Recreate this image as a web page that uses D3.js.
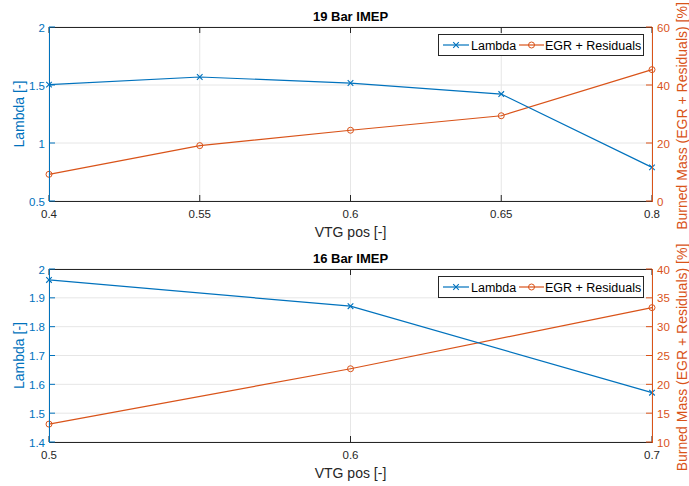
<!DOCTYPE html>
<html>
<head>
<meta charset="utf-8">
<script src="https://cdn.jsdelivr.net/npm/d3@7"></script>
<style>
  body { margin: 0; background: #fff; }
  svg { display: block; font-family: "Liberation Sans", Arial, Helvetica, sans-serif; }
</style>
</head>
<body>
<svg id="chart" width="689" height="486"></svg>
<script>
// 19 bar IMEP sweep (VTG positions plotted as equally spaced categories)
const vtg19 = ["0.4", "0.55", "0.6", "0.65", "0.8"];
const lambda19 = [1.503, 1.569, 1.517, 1.422, 0.79];
const egr19 = [9.2, 19.1, 24.4, 29.4, 45.3];
const lambdaTicks19 = [0.5, 1, 1.5, 2];
const egrTicks19 = [0, 20, 40, 60];

// 16 bar IMEP sweep
const vtg16 = [0.5, 0.6, 0.7];
const lambda16 = [1.962, 1.871, 1.571];
const egr16 = [13.1, 22.7, 33.3];
const lambdaTicks16 = [1.4, 1.5, 1.6, 1.7, 1.8, 1.9, 2];
const egrTicks16 = [10, 15, 20, 25, 30, 35, 40];

const BLUE = "#0072BD", ORANGE = "#D95319", DARK = "#262626", GRID = "#e6e6e6";
const TICK_FS = 11.5, LABEL_FS = 14, TITLE_FS = 13, LEGEND_FS = 12.5;
const svg = d3.select("#chart");

function panel(cfg) {
  const { top, bottom, left, right } = cfg;
  const g = svg.append("g");
  const x = cfg.x.range([left, right]);
  const yL = d3.scaleLinear().domain(cfg.lDomain).range([bottom, top]);
  const yR = d3.scaleLinear().domain(cfg.rDomain).range([bottom, top]);
  const xv = cfg.xValues;
  const tickLen = 6;

  // grid
  g.selectAll(".vg").data(cfg.xTicks).enter().append("line")
    .attr("x1", d => x(d)).attr("x2", d => x(d)).attr("y1", top).attr("y2", bottom)
    .attr("stroke", GRID).attr("stroke-width", 1);
  g.selectAll(".hg").data(cfg.lTicks).enter().append("line")
    .attr("x1", left).attr("x2", right).attr("y1", d => yL(d)).attr("y2", d => yL(d))
    .attr("stroke", GRID).attr("stroke-width", 1);

  // series
  const lineL = d3.line().x((d, i) => x(xv[i])).y(d => yL(d));
  const lineR = d3.line().x((d, i) => x(xv[i])).y(d => yR(d));
  g.append("path").attr("d", lineR(cfg.rData)).attr("fill", "none")
    .attr("stroke", ORANGE).attr("stroke-width", 1.2);
  g.append("path").attr("d", lineL(cfg.lData)).attr("fill", "none")
    .attr("stroke", BLUE).attr("stroke-width", 1.2);
  g.selectAll(".mo").data(cfg.rData).enter().append("circle")
    .attr("cx", (d, i) => x(xv[i])).attr("cy", d => yR(d)).attr("r", 3)
    .attr("fill", "none").attr("stroke", ORANGE).attr("stroke-width", 1);
  const s = 2.8;
  g.selectAll(".mx").data(cfg.lData).enter().append("path")
    .attr("d", (d, i) => {
      const cx = x(xv[i]), cy = yL(d);
      return `M${cx - s},${cy - s}L${cx + s},${cy + s}M${cx - s},${cy + s}L${cx + s},${cy - s}`;
    })
    .attr("stroke", BLUE).attr("stroke-width", 1.1);

  // box: top and bottom edges
  g.append("line").attr("x1", left).attr("x2", right).attr("y1", top + 0.5).attr("y2", top + 0.5)
    .attr("stroke", DARK).attr("stroke-width", 1);
  g.append("line").attr("x1", left).attr("x2", right).attr("y1", bottom + 0.5).attr("y2", bottom + 0.5)
    .attr("stroke", DARK).attr("stroke-width", 1);
  // x ticks on both edges
  cfg.xTicks.forEach(t => {
    g.append("line").attr("x1", x(t)).attr("x2", x(t)).attr("y1", bottom).attr("y2", bottom - tickLen)
      .attr("stroke", DARK);
    g.append("line").attr("x1", x(t)).attr("x2", x(t)).attr("y1", top).attr("y2", top + tickLen)
      .attr("stroke", DARK);
  });
  g.selectAll(".xl").data(cfg.xTicks).enter().append("text")
    .attr("x", d => x(d)).attr("y", bottom + 17).attr("text-anchor", "middle")
    .attr("font-size", TICK_FS).attr("fill", DARK).text(d => cfg.xFmt(d));

  // left axis
  g.append("line").attr("x1", left + 0.5).attr("x2", left + 0.5).attr("y1", top).attr("y2", bottom + 1)
    .attr("stroke", BLUE).attr("stroke-width", 1);
  cfg.lTicks.forEach(t => {
    g.append("line").attr("x1", left).attr("x2", left + tickLen).attr("y1", yL(t)).attr("y2", yL(t))
      .attr("stroke", BLUE);
  });
  g.selectAll(".ll").data(cfg.lTicks).enter().append("text")
    .attr("x", left - 4).attr("y", d => yL(d) + 4.5).attr("text-anchor", "end")
    .attr("font-size", TICK_FS).attr("fill", BLUE).text(d => cfg.lFmt(d));

  // right axis
  g.append("line").attr("x1", right + 0.5).attr("x2", right + 0.5).attr("y1", top).attr("y2", bottom + 1)
    .attr("stroke", ORANGE).attr("stroke-width", 1);
  cfg.rTicks.forEach(t => {
    g.append("line").attr("x1", right).attr("x2", right - tickLen).attr("y1", yR(t)).attr("y2", yR(t))
      .attr("stroke", ORANGE);
  });
  g.selectAll(".rl").data(cfg.rTicks).enter().append("text")
    .attr("x", right + 5).attr("y", d => yR(d) + 4.5).attr("text-anchor", "start")
    .attr("font-size", TICK_FS).attr("fill", ORANGE).text(d => d);

  // labels and title
  const midY = (top + bottom) / 2;
  g.append("text").attr("transform", `translate(${left - 25},${midY}) rotate(-90)`)
    .attr("text-anchor", "middle").attr("font-size", LABEL_FS).attr("fill", BLUE).text("Lambda [-]");
  g.append("text").attr("transform", `translate(${right + 35},${midY + 2}) rotate(-90)`)
    .attr("text-anchor", "middle").attr("font-size", LABEL_FS).attr("fill", ORANGE)
    .text("Burned Mass (EGR + Residuals) [%]");
  g.append("text").attr("x", (left + right) / 2).attr("y", bottom + 35.5).attr("text-anchor", "middle")
    .attr("font-size", LABEL_FS).attr("fill", DARK).text("VTG pos [-]");
  g.append("text").attr("x", (left + right) / 2).attr("y", top - 6.5).attr("text-anchor", "middle")
    .attr("font-size", TITLE_FS).attr("font-weight", "bold").attr("fill", "#000").text(cfg.title);

  // legend
  const lx = 438, ly = top + 7, lw = 205, lh = 21;
  const lg = g.append("g");
  lg.append("rect").attr("x", lx + 0.5).attr("y", ly + 0.5).attr("width", lw).attr("height", lh)
    .attr("fill", "#fff").attr("stroke", DARK).attr("stroke-width", 1);
  const cy = ly + lh / 2 + 0.5;
  lg.append("line").attr("x1", lx + 5).attr("x2", lx + 31).attr("y1", cy).attr("y2", cy)
    .attr("stroke", BLUE).attr("stroke-width", 1.2);
  const mx = lx + 18;
  lg.append("path").attr("d", `M${mx - s},${cy - s}L${mx + s},${cy + s}M${mx - s},${cy + s}L${mx + s},${cy - s}`)
    .attr("stroke", BLUE).attr("stroke-width", 1.1);
  lg.append("text").attr("x", lx + 33).attr("y", cy + 4.5).attr("font-size", LEGEND_FS).attr("fill", "#000").text("Lambda");
  lg.append("line").attr("x1", lx + 81).attr("x2", lx + 106).attr("y1", cy).attr("y2", cy)
    .attr("stroke", ORANGE).attr("stroke-width", 1.2);
  lg.append("circle").attr("cx", lx + 93.5).attr("cy", cy).attr("r", 3)
    .attr("fill", "none").attr("stroke", ORANGE).attr("stroke-width", 1);
  lg.append("text").attr("x", lx + 107).attr("y", cy + 4.5).attr("font-size", LEGEND_FS).attr("fill", "#000").text("EGR + Residuals");
}

panel({
  title: "19 Bar IMEP",
  top: 27, bottom: 201, left: 49, right: 652,
  x: d3.scalePoint().domain(vtg19), xValues: vtg19, xTicks: vtg19, xFmt: d => d,
  lDomain: [0.5, 2], lTicks: lambdaTicks19, lFmt: d => d, lData: lambda19,
  rDomain: [0, 60], rTicks: egrTicks19, rData: egr19
});

panel({
  title: "16 Bar IMEP",
  top: 269, bottom: 442, left: 49, right: 652,
  x: d3.scaleLinear().domain([0.5, 0.7]), xValues: vtg16, xTicks: vtg16, xFmt: d => d3.format(".1f")(d),
  lDomain: [1.4, 2], lTicks: lambdaTicks16, lFmt: d => (d === 2 ? "2" : d3.format(".1f")(d)), lData: lambda16,
  rDomain: [10, 40], rTicks: egrTicks16, rData: egr16
});
</script>
</body>
</html>
